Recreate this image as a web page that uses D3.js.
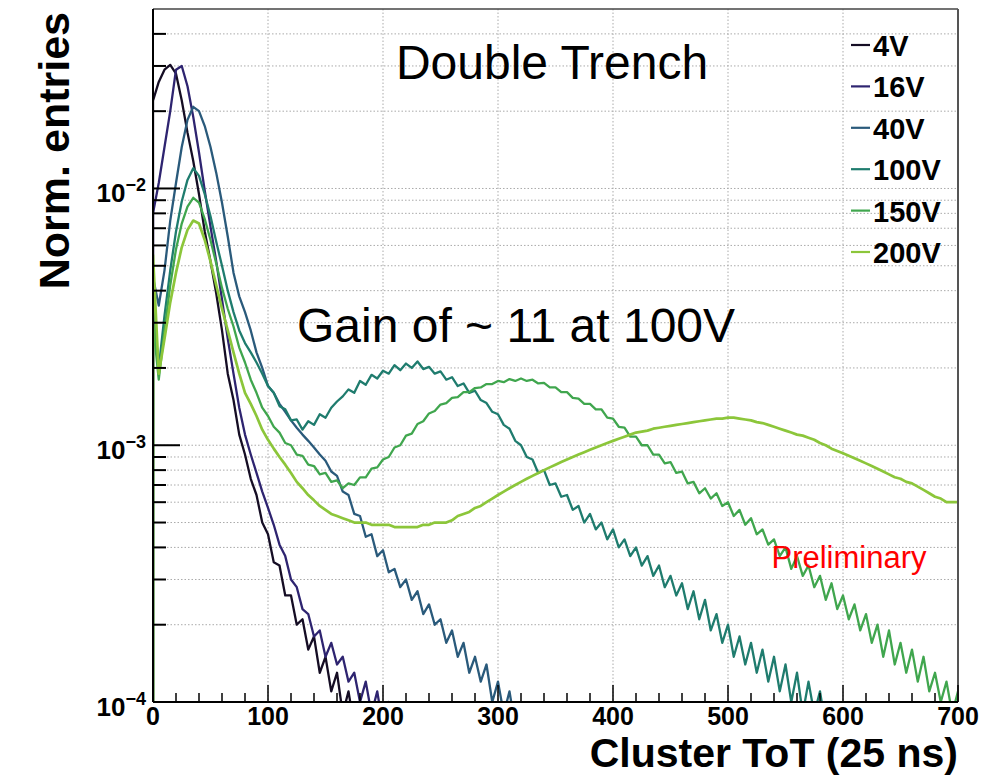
<!DOCTYPE html>
<html><head><meta charset="utf-8">
<script src="https://cdn.jsdelivr.net/npm/d3@7"></script>
<style>body{margin:0;background:#fff} text{font-family:"Liberation Sans",Arial,Helvetica,sans-serif}</style>
</head><body><svg id="c" width="1000" height="776"></svg>
<script>
// Cluster ToT bin positions (units of 25 ns), step 5
const tot = d3.range(0, 701, 5);

const labels = ["4V", "16V", "40V", "100V", "150V", "200V"];
const colors = ["#150d24", "#2e2470", "#2a5a7b", "#1f7c6e", "#40a64e", "#8cc63a"];

const v4V = [0.022,0.026,0.029,0.0303,0.028,0.022,0.0165,0.0128,0.0095,0.0068,0.0052,0.0039,0.0028,0.0019,0.0015,0.0011,0.00092,0.00074,0.00064,0.0005,0.00045,0.00035,0.00034,0.00026,0.00026,0.0002,0.00021,0.00016,0.00018,0.00013,0.00015,0.00011,0.00013,0.00009,0.00011,0.00008,0.0001,0.00006,0.00009,0.00005,0.00008,0.00004];
const v16V = [0.008,0.0105,0.0145,0.02,0.029,0.030,0.025,0.019,0.0138,0.0098,0.0071,0.0052,0.0037,0.0026,0.0019,0.0014,0.0011,0.00092,0.00078,0.00066,0.00057,0.00049,0.00041,0.00037,0.0003,0.00028,0.00023,0.00022,0.00018,0.00019,0.00015,0.00017,0.00014,0.00015,0.00012,0.00013,0.0001,0.00012,0.00009,0.00011,0.00008,0.0001,0.00007,0.00009,0.00005,0.00004];
const v40V = [0.0045,0.0035,0.0048,0.0075,0.0105,0.0145,0.0185,0.0208,0.02,0.0175,0.0145,0.0115,0.0088,0.0065,0.0047,0.0038,0.0033,0.0028,0.0023,0.002,0.0017,0.0016,0.00145,0.00135,0.00125,0.00117,0.0011,0.00104,0.00098,0.00092,0.00087,0.00079,0.00076,0.00066,0.00064,0.00054,0.00053,0.00044,0.00045,0.00037,0.00039,0.00032,0.00033,0.00028,0.0003,0.00025,0.00027,0.00022,0.00024,0.0002,0.00021,0.00017,0.00019,0.00015,0.00017,0.00013,0.00015,0.00012,0.00014,0.0001,0.00012,0.00009,0.00011,0.00008,0.0001,0.00007,0.00009,0.00005];
const v100V = [0.0035,0.002,0.0032,0.0048,0.0068,0.0089,0.0108,0.012,0.0112,0.0095,0.0078,0.0062,0.005,0.004,0.0033,0.0028,0.0025,0.0023,0.0021,0.0019,0.0017,0.0016,0.00142,0.00138,0.00125,0.00126,0.00115,0.00124,0.0012,0.00132,0.00128,0.0014,0.00148,0.00155,0.00165,0.0016,0.00178,0.00172,0.00188,0.00182,0.00195,0.0019,0.00205,0.00196,0.00208,0.002,0.00212,0.00198,0.00202,0.0019,0.00194,0.0018,0.00184,0.0017,0.00174,0.0016,0.00163,0.0015,0.00146,0.00135,0.00132,0.0012,0.00116,0.00104,0.001,0.0009,0.00088,0.00078,0.0008,0.0007,0.00071,0.00063,0.00064,0.00056,0.00058,0.0005,0.00054,0.00047,0.0005,0.00043,0.00047,0.0004,0.00043,0.00037,0.0004,0.00034,0.00037,0.00031,0.00034,0.00028,0.00031,0.00026,0.00029,0.00023,0.00027,0.00021,0.00025,0.00019,0.00022,0.00017,0.0002,0.00015,0.00018,0.00014,0.00017,0.00013,0.00016,0.00012,0.00015,0.00011,0.00014,0.0001,0.00013,0.00009,0.00012,0.00009,0.00011,0.00008,0.0001,0.00007,0.00009,0.00006];
const v150V = [0.003,0.0018,0.0028,0.0042,0.0058,0.0073,0.0085,0.0092,0.0088,0.0076,0.0063,0.0051,0.0041,0.0034,0.0029,0.0024,0.0021,0.0018,0.0016,0.0014,0.0013,0.00118,0.00112,0.00102,0.001,0.00092,0.00091,0.00084,0.00083,0.00077,0.00078,0.00072,0.00073,0.00068,0.00071,0.0007,0.00075,0.00075,0.00081,0.00082,0.00088,0.0009,0.00098,0.001,0.00109,0.00111,0.00121,0.00124,0.00133,0.00136,0.00144,0.00146,0.00153,0.00154,0.00161,0.00161,0.00167,0.00168,0.00173,0.00173,0.00178,0.00176,0.00181,0.00178,0.00182,0.00178,0.0018,0.00174,0.00175,0.00168,0.00168,0.00161,0.00161,0.00153,0.00152,0.00145,0.00145,0.00138,0.00138,0.00128,0.00127,0.00118,0.00117,0.00108,0.00108,0.001,0.001,0.00092,0.00092,0.00085,0.00086,0.00078,0.00079,0.00071,0.00072,0.00065,0.00068,0.00062,0.00065,0.00058,0.0006,0.00053,0.00056,0.00049,0.00052,0.00045,0.00047,0.00041,0.00043,0.00037,0.0004,0.00033,0.00037,0.00031,0.00034,0.00028,0.00031,0.00025,0.00029,0.00023,0.00026,0.00021,0.00024,0.00019,0.00022,0.00017,0.0002,0.00015,0.00019,0.00014,0.00017,0.00013,0.00016,0.00012,0.00015,0.00011,0.00013,0.0001,0.00012,0.00009,0.00011];
const v200V = [0.0055,0.0019,0.0026,0.0036,0.0047,0.0059,0.0069,0.0075,0.0073,0.0063,0.0052,0.0042,0.0034,0.0028,0.0023,0.0019,0.0016,0.00145,0.0013,0.00115,0.00105,0.00097,0.0009,0.00084,0.00078,0.00072,0.00068,0.00064,0.00061,0.00058,0.00056,0.00054,0.00053,0.00052,0.00051,0.0005,0.0005,0.0005,0.00049,0.00049,0.00049,0.00049,0.00048,0.00048,0.00048,0.00048,0.00048,0.00049,0.00049,0.0005,0.0005,0.0005,0.00051,0.00053,0.00054,0.00055,0.00057,0.00058,0.0006,0.00062,0.00064,0.00066,0.00068,0.0007,0.00072,0.00074,0.00076,0.00078,0.0008,0.00082,0.00084,0.00086,0.00088,0.0009,0.00092,0.00094,0.00096,0.00098,0.001,0.00102,0.00104,0.00106,0.00108,0.0011,0.00112,0.00113,0.00114,0.00116,0.00117,0.00118,0.00119,0.0012,0.00121,0.00122,0.00123,0.00124,0.00125,0.00126,0.00127,0.00127,0.00128,0.00128,0.00127,0.00126,0.00125,0.00123,0.00122,0.0012,0.00118,0.00116,0.00114,0.00112,0.0011,0.00109,0.00107,0.00105,0.00102,0.001,0.00097,0.00095,0.00093,0.00091,0.00089,0.00087,0.00085,0.00083,0.00081,0.00079,0.00077,0.00075,0.00074,0.00072,0.00071,0.00069,0.00067,0.00065,0.00063,0.00062,0.0006,0.0006,0.0006];

const seriesValues = [v4V, v16V, v40V, v100V, v150V, v200V];
const xMajorTicks = [0, 100, 200, 300, 400, 500, 600, 700];
const yLabelTicks = [1e-4, 1e-3, 1e-2];
const yLabelExp = ["\u22124", "\u22123", "\u22122"];

const svg = d3.select("#c");
const L = 153, R = 958, T = 9, B = 702;
const x = d3.scaleLinear().domain([0, 700]).range([L, R]);
const y = d3.scaleLog().domain([1e-4, 0.05]).range([B, T]);

// grid
const yMinor = [];
[1e-4, 1e-3, 1e-2].forEach(d => { for (let k = 1; k <= 9; k++) { const v = d * k; if (v <= 0.0405 && v > 1e-4) yMinor.push(v); } });
const g = svg.append("g");
g.selectAll(".gy").data(yMinor).join("line")
  .attr("x1", L).attr("x2", R).attr("y1", d => y(d)).attr("y2", d => y(d))
  .attr("stroke", "#aaa").attr("stroke-width", 1).attr("stroke-dasharray", "1.5,2");
g.selectAll(".gx").data(xMajorTicks.slice(1, -1)).join("line")
  .attr("x1", d => x(d)).attr("x2", d => x(d)).attr("y1", T).attr("y2", B)
  .attr("stroke", "#aaa").attr("stroke-width", 1).attr("stroke-dasharray", "1.5,2");

// curves
svg.append("clipPath").attr("id", "clip").append("rect").attr("x", L).attr("y", T).attr("width", R - L).attr("height", B - T);
const line = d3.line().x(d => x(d[0])).y(d => y(Math.max(d[1], 2e-5)));
const curves = svg.append("g").attr("clip-path", "url(#clip)");
seriesValues.forEach((vals, i) => {
  const pts = [[0, 2e-5]].concat(vals.map((v, j) => [tot[j], v]));
  curves.append("path").datum(pts).attr("d", line)
    .attr("fill", "none").attr("stroke", colors[i]).attr("stroke-width", i === 5 ? 2.7 : 2.3).attr("stroke-linejoin", "round");
});

// frame
svg.append("line").attr("x1", L).attr("x2", R).attr("y1", T).attr("y2", T).attr("stroke", "#444").attr("stroke-width", 1.5);
svg.append("line").attr("x1", R).attr("x2", R).attr("y1", T).attr("y2", B).attr("stroke", "#555").attr("stroke-width", 2);

// axes (ROOT-style inward ticks)
const ax = svg.append("g");
ax.append("line").attr("x1", L).attr("x2", R).attr("y1", B).attr("y2", B).attr("stroke", "#000").attr("stroke-width", 2);
ax.append("line").attr("x1", L).attr("x2", L).attr("y1", T).attr("y2", B).attr("stroke", "#000").attr("stroke-width", 2);
const xMinor = d3.range(0, 701, 20).filter(d => d % 100 !== 0);
ax.selectAll(".xt").data(xMajorTicks).join("line")
  .attr("x1", d => x(d)).attr("x2", d => x(d)).attr("y1", B).attr("y2", B - 17).attr("stroke", "#000").attr("stroke-width", 1.5);
ax.selectAll(".xm").data(xMinor).join("line")
  .attr("x1", d => x(d)).attr("x2", d => x(d)).attr("y1", B).attr("y2", B - 9).attr("stroke", "#000").attr("stroke-width", 1.5);
ax.selectAll(".yt").data(yLabelTicks).join("line")
  .attr("x1", L).attr("x2", L + 27).attr("y1", d => y(d)).attr("y2", d => y(d)).attr("stroke", "#000").attr("stroke-width", 2);
ax.selectAll(".ym").data(yMinor.filter(d => !yLabelTicks.some(t => Math.abs(t - d) < 1e-12))).join("line")
  .attr("x1", L).attr("x2", L + 13).attr("y1", d => y(d)).attr("y2", d => y(d)).attr("stroke", "#000").attr("stroke-width", 2);

ax.selectAll(".xl").data(xMajorTicks).join("text")
  .attr("x", d => x(d)).attr("y", 725).attr("text-anchor", "middle")
  .attr("font-size", 25).attr("font-weight", "bold").text(d => d);
yLabelTicks.forEach((t, i) => {
  const tx = ax.append("text").attr("x", 146).attr("y", y(t) + 14).attr("text-anchor", "end")
    .attr("font-size", 26).attr("font-weight", "bold");
  tx.append("tspan").text("10");
  tx.append("tspan").attr("font-size", 18).attr("dy", -11).text(yLabelExp[i]);
});

// titles
svg.append("text").attr("x", R).attr("y", 767).attr("text-anchor", "end")
  .attr("font-size", 41).attr("font-weight", "bold").text("Cluster ToT (25 ns)");
svg.append("text").attr("transform", "translate(69,12) rotate(-90)").attr("text-anchor", "end")
  .attr("font-size", 43).attr("font-weight", "bold").text("Norm. entries");

svg.append("text").attr("x", 552).attr("y", 79).attr("text-anchor", "middle").attr("font-size", 48).text("Double Trench");
svg.append("text").attr("x", 516).attr("y", 342).attr("text-anchor", "middle").attr("font-size", 48).text("Gain of ~ 11 at 100V");
svg.append("text").attr("x", 849).attr("y", 568).attr("text-anchor", "middle").attr("font-size", 31).attr("fill", "#ff0000").text("Preliminary");

// legend
const lg = svg.append("g");
labels.forEach((lab, i) => {
  const cy = 45 + i * 41.4;
  lg.append("line").attr("x1", 851).attr("x2", 870).attr("y1", cy).attr("y2", cy).attr("stroke", colors[i]).attr("stroke-width", 2.2);
  lg.append("text").attr("x", 873).attr("y", cy + 11).attr("font-size", 29).attr("font-weight", "bold").text(lab);
});
</script></body></html>
